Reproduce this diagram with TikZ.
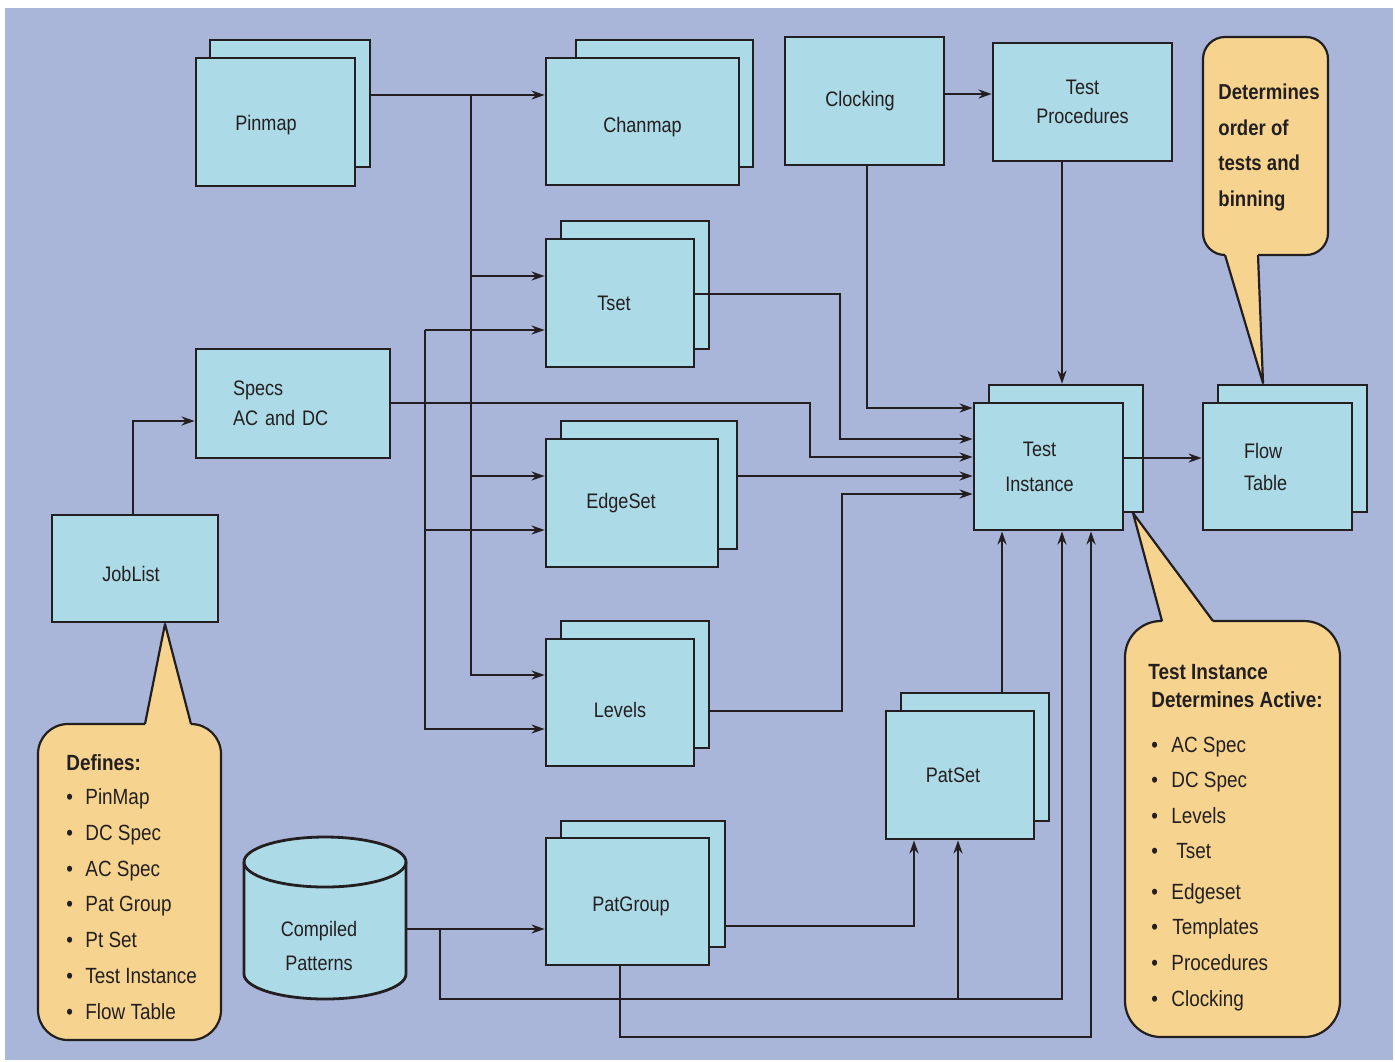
\documentclass[tikz,border=0pt]{standalone}
\usepackage{fontspec}
\setmainfont{Liberation Sans}[FakeStretch=0.86]
\usepackage{tikz}
\usetikzlibrary{arrows.meta}
\tikzset{>={Stealth[length=6.5pt,width=4.5pt]}}

\definecolor{bgblue}{RGB}{169,181,217}
\definecolor{cardblue}{RGB}{172,218,230}
\definecolor{notebuff}{RGB}{246,212,143}
\definecolor{ink}{RGB}{35,31,32}

\tikzset{
  card/.style={draw=ink, line width=1.4pt, fill=cardblue, inner sep=0pt, text=ink,
    font=\fontsize{10.5pt}{15pt}\selectfont},
  drop/.style={text depth=0pt, text height=#1},
  link/.style={draw=ink, line width=1.2pt},
  note/.style={draw=ink, line width=1.1pt, line join=round},
  notetxt/.style={anchor=base west, inner sep=0pt, text=ink, font=\fontsize{11pt}{13pt}\selectfont},
  notehead/.style={notetxt, font=\fontsize{11pt}{13pt}\selectfont\bfseries},
}

\begin{document}
\begin{tikzpicture}[x=0.5pt,y=-0.5pt]

  \useasboundingbox (0,0) rectangle (1395,1061);
  \fill[bgblue] (5,8) rectangle (1393,1060);

  %% callouts
  % Defines
  \fill[notebuff, rounded corners=15pt] (38,724) rectangle (221,1040);
  \fill[notebuff] (145,726) -- (165,624) -- (191,726) -- cycle;
  \draw[note] (145,724) -- (165,624) -- (191,724);
  \draw[note, rounded corners=15pt] (191,724) -- (221,724) -- (221,1040) -- (38,1040) -- (38,724) -- (145,724);
  % Determines order
  \fill[notebuff, rounded corners=11pt] (1203,37) rectangle (1328,255);
  \fill[notebuff] (1225,253) -- (1263,383) -- (1258,253) -- cycle;
  \draw[note] (1225,255) -- (1263,383) -- (1258,255);
  \draw[note, rounded corners=11pt] (1258,255) -- (1328,255) -- (1328,37) -- (1203,37) -- (1203,255) -- (1225,255);
  % Test Instance determines active
  \fill[notebuff, rounded corners=18pt] (1125,621) rectangle (1340,1037);
  \fill[notebuff] (1162,623) -- (1133,513) -- (1213,623) -- cycle;
  \draw[note] (1162,621) -- (1133,513) -- (1213,621);
  \draw[note, rounded corners=18pt] (1213,621) -- (1340,621) -- (1340,1037) -- (1125,1037) -- (1125,621) -- (1162,621);

  %% boxes
  \node[card, minimum width=80pt, minimum height=63.5pt] (pinmapB) at (290,103.5) {};
  \node[card, drop=8.5pt, minimum width=79.5pt, minimum height=64pt] (pinmap) at (275.5,122) {Pinmap\hspace*{9.5pt}};

  \node[card, minimum width=88.5pt, minimum height=63.5pt] (chanmapB) at (664.5,103.5) {};
  \node[card, drop=11pt, minimum width=96.5pt, minimum height=63.5pt] (chanmap) at (642.5,121.5) {Chanmap};

  \node[card, minimum width=79.5pt, minimum height=64pt] (clocking) at (864.5,101) {Clocking\hspace*{4.5pt}};
  \node[card, minimum width=89.5pt, minimum height=59pt, align=center,
    font=\fontsize{10.5pt}{14.5pt}\selectfont] (testproc) at (1082.5,102) {Test\\Procedures};

  \node[card, minimum width=74pt, minimum height=64pt] (tsetB) at (635,285) {};
  \node[card, drop=7.5pt, minimum width=74pt, minimum height=64pt] (tset) at (620,303) {Tset\hspace*{6pt}};

  \node[card, minimum height=54.5pt, inner xsep=18.5pt, text width=60pt, align=left] (specs) at (293,403.5) {Specs\\AC and DC};

  \node[card, minimum width=88pt, minimum height=64pt] (edgesetB) at (649,485) {};
  \node[card, minimum width=86pt, minimum height=64pt] (edgeset) at (632,503) {EdgeSet\hspace*{11pt}};

  \node[card, minimum width=77pt, minimum height=63.5pt] (testinstB) at (1066,448.5) {};
  \node[card, minimum width=74.5pt, minimum height=63.5pt, inner xsep=15pt, text width=44.5pt, align=center,
    font=\fontsize{10.5pt}{17.5pt}\selectfont] (testinst) at (1048.5,466.5) {\hspace*{-9pt}Test\\\hspace*{-9pt}Instance};

  \node[card, minimum width=74.5pt, minimum height=63.5pt] (flowB) at (1292.5,448.5) {};
  \node[card, minimum height=63.5pt, inner xsep=20.5pt, text width=33.5pt, align=left,
    font=\fontsize{10.5pt}{16pt}\selectfont] (flow) at (1277.5,466.5) {Flow\\Table};

  \node[card, drop=13pt, minimum width=83pt, minimum height=53.5pt] (joblist) at (135,568.5) {JobList\hspace*{4pt}};

  \node[card, minimum width=74pt, minimum height=63.5pt] (levelsB) at (635,684.5) {};
  \node[card, drop=15pt, minimum width=74pt, minimum height=63.5pt] (levels) at (620,702.5) {Levels};

  \node[card, minimum width=74pt, minimum height=64pt] (patsetB) at (975,757) {};
  \node[card, minimum width=74pt, minimum height=64pt] (patset) at (960,775) {PatSet\hspace*{7pt}};

  \node[card, minimum width=82pt, minimum height=63pt] (patgroupB) at (643,884) {};
  \node[card, drop=10pt, minimum width=81.5pt, minimum height=63.5pt] (patgroup) at (627.5,901.5) {\hspace*{3.5pt}PatGroup};

  % compiled patterns (drum)
  \draw[draw=ink, line width=1.4pt, fill=cardblue] (244,974)
    arc[start angle=180, end angle=360, x radius=40.5pt, y radius=12.5pt] -- (406,862)
    arc[start angle=0, end angle=180, x radius=40.5pt, y radius=12.5pt] -- cycle;
  \draw[draw=ink, line width=1.4pt] (244,862) arc[start angle=180, end angle=360, x radius=40.5pt, y radius=12.5pt];
  \node[minimum width=81pt, minimum height=81.5pt, inner sep=0pt] (compiled) at (325,917.5) {};
  \node[align=center, text=ink, font=\fontsize{10.5pt}{17pt}\selectfont] (compiledtxt) at (319,946) {Compiled\\Patterns};

  %% connectors
  % Pinmap -> Chanmap, upper bus
  \coordinate (busA) at (471,95);
  \draw[link,->] (pinmapB.east |- busA) -- (chanmap.west |- busA);
  \draw[link,->] (busA) |- (levels.west |- 0,675);
  \draw[link,->] (busA |- 0,276) -- (tset.west |- 0,276);
  \draw[link,->] (busA |- 0,476) -- (edgeset.west |- 0,476);

  % lower bus
  \coordinate (busB) at (425,330);
  \draw[link,->] (busB) -- (tset.west |- busB);
  \draw[link,->] (busB) |- (levels.west |- 0,729);
  \draw[link,->] (busB |- 0,530) -- (edgeset.west |- 0,530);

  % into Test Instance
  \draw[link,->] (specs.east |- 0,403) -| (810,457) -- (testinst.west |- 0,457);
  \draw[link,->] (tset.east |- 0,294) -| (840,439) -- (testinst.west |- 0,439);
  \draw[link,->] (edgesetB.east |- 0,476) -- (testinst.west |- 0,476);
  \draw[link,->] (levelsB.east |- 0,711) -| (842,494) -- (testinst.west |- 0,494);
  \draw[link,->] (clocking.south -| 867,0) |- (testinst.west |- 0,408);
  \draw[link,->] (clocking.east |- 0,94) -- (testproc.west |- 0,94);
  \draw[link,->] (testproc.south -| 1062,0) -- (testinstB.north -| 1062,0);
  \draw[link,->] (testinst.east |- 0,458) -- (flow.west |- 0,458);
  \draw[link,->] (joblist.north -| 133,0) |- (specs.west |- 0,421);

  % patterns
  \coordinate (busC) at (440,929);
  \coordinate (busD) at (958,999);
  \draw[link,->] (compiled.east |- busC) -- (patgroup.west |- busC);
  \draw[link,->] (busC) |- (1062,999) -- (testinst.south -| 1062,0);
  \draw[link,->] (busD) -- (patset.south -| busD);
  \draw[link,->] (patgroupB.east |- 0,926) -| (patset.south -| 914,0);
  \draw[link,->] (patgroup.south -| 620,0) |- (1091,1037) -- (testinst.south -| 1091,0);
  \draw[link,->] (patsetB.north -| 1002,0) -- (testinst.south -| 1002,0);

  %% callout texts
  \node[notehead] (defhead) at (66,770.5) {Defines:};
  \foreach \t [count=\i] in {PinMap,DC Spec,AC Spec,Pat Group,Pt Set,Test Instance,Flow Table}
    \node[notetxt] (def\i) at (66,{804.5+35.8*(\i-1)}) {\makebox[9.5pt][l]{\textbullet}\t};

  \foreach \t [count=\i] in {Determines,order of,tests and,binning}
    \node[notehead, font=\fontsize{10.8pt}{13pt}\selectfont\bfseries] (det\i) at (1218,{99.5+35.7*(\i-1)}) {\t};

  \node[notehead] (tihead) at (1148,679.5) {Test Instance};
  \node[notehead] (tihead2) at (1151,707.5) {Determines Active:};
  \foreach \y/\t [count=\i] in {745/AC Spec,780/DC Spec,816/Levels,851/\hspace{2.5pt}Tset,892/Edgeset,927/\hspace{0.5pt}Templates,963/Procedures,999/Clocking}
    \node[notetxt] (act\i) at (1151,{\y+7.5}) {\makebox[10pt][l]{\textbullet}\t};

\end{tikzpicture}
\end{document}
